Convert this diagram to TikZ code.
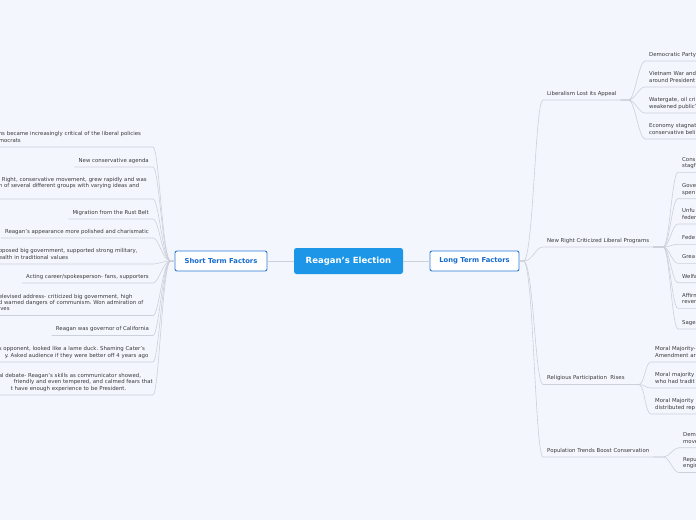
\documentclass[tikz,border=0pt]{standalone}
\usepackage{fontspec}
\setmainfont{DejaVu Sans}
\usetikzlibrary{positioning}
\definecolor{mapbg}{HTML}{F3F6FD}
\definecolor{maplink}{HTML}{CCD0D9}
\definecolor{mapblue}{HTML}{1D96E8}
\definecolor{mapedge}{HTML}{2A7AD8}
\definecolor{maphead}{HTML}{176BCF}
\definecolor{maptext}{HTML}{3A3A3A}

\tikzset{
  leaf/.style={font=\fontsize{5.4}{6.4}\selectfont\frenchspacing, text=maptext, inner xsep=4pt, inner ysep=3pt, text depth=1.5pt, align=left},
  lleaf/.style={leaf, anchor=south east},
  cutleaf/.style={lleaf, text width=150pt},
  rleaf/.style={leaf, anchor=south west, text width=70pt},
  twolines/.style={text depth=7.9pt},
  threelines/.style={text depth=14.3pt},
  topic/.style={leaf, anchor=south west},
  branch/.style={fill=white, draw=mapedge, line width=0.9pt, rounded corners=2pt, text=maphead, font=\bfseries\fontsize{6.8}{8}\selectfont, minimum height=20pt, inner sep=0pt},
  central/.style={fill=mapblue, rounded corners=2.5pt, text=white, font=\bfseries\fontsize{8.5}{10}\selectfont, minimum width=109pt, minimum height=26pt},
  link/.style={draw=maplink, line width=0.6pt}
}

\begin{document}
\begin{tikzpicture}[x=1pt,y=-1pt]
\path[use as bounding box] (0,0) rectangle (696,520);
\clip (0,0) rectangle (696,520);
\fill[mapbg] (0,0) rectangle (696,520);

% centre and the two main branches
\node[central] (re) at (348.5,261) {Reagan's Election};
\node[branch, minimum width=92pt] (st) at (221,261) {Short Term Factors};
\node[branch, minimum width=89pt] (lt) at (474.5,261) {Long Term Factors};
\draw[link] (re) -- (st);
\draw[link] (re) -- (lt);

% short term factors
\node[cutleaf, twolines] (s1) at (153,147) {ns became increasingly critical of the liberal policies\\mocrats};
\node[lleaf] (s2) at (153,167) {New conservative agenda};
\node[cutleaf, threelines] (s3) at (153,199) {\hspace*{3pt}Right, conservative movement, grew rapidly and was\\n of several different groups with varying ideas and};
\node[lleaf] (s4) at (153,219) {Migration from the Rust Belt};
\node[lleaf] (s5) at (153,238) {Reagan's appearance more polished and charismatic};
\node[cutleaf, twolines] (s6) at (153,264) {pposed big government, supported strong military,\\ealth in traditional values};
\node[lleaf] (s7) at (153,283) {Acting career/spokesperson- fans, supporters};
\node[cutleaf, threelines] (s8) at (153,315.5) {elevised address- criticized big government, high\\d warned dangers of communism. Won admiration of\\ives};
\node[lleaf] (s9) at (153,335.5) {Reagan was governor of California};
\node[cutleaf, twolines] (s10) at (153,362) {s opponent, looked like a lame duck. Shaming Cater's\\\mbox{\hspace*{6pt}y. Asked audience if they were better off 4 years ago}};
\node[cutleaf, threelines] (s11) at (153,395) {al debate- Reagan's skills as communicator showed,\\\mbox{\hspace*{15pt}friendly and even tempered, and calmed fears that}\\\mbox{\hspace*{12pt}t have enough experience to be President.}};

\draw[link] (st.west) -- ++(-4,0) .. controls +(-8,0) and +(6,0) .. (s1.south east) -- (s1.south west);
\draw[link] (st.west) -- ++(-4,0) .. controls +(-8,0) and +(6,0) .. (s2.south east) -- (s2.south west);
\draw[link] (st.west) -- ++(-4,0) .. controls +(-8,0) and +(6,0) .. (s3.south east) -- (s3.south west);
\draw[link] (st.west) -- ++(-4,0) .. controls +(-8,0) and +(6,0) .. (s4.south east) -- (s4.south west);
\draw[link] (st.west) -- ++(-4,0) .. controls +(-8,0) and +(6,0) .. (s5.south east) -- (s5.south west);
\draw[link] (st.west) -- ++(-4,0) .. controls +(-8,0) and +(6,0) .. (s6.south east) -- (s6.south west);
\draw[link] (st.west) -- ++(-4,0) .. controls +(-8,0) and +(6,0) .. (s7.south east) -- (s7.south west);
\draw[link] (st.west) -- ++(-4,0) .. controls +(-8,0) and +(6,0) .. (s8.south east) -- (s8.south west);
\draw[link] (st.west) -- ++(-4,0) .. controls +(-8,0) and +(6,0) .. (s9.south east) -- (s9.south west);
\draw[link] (st.west) -- ++(-4,0) .. controls +(-8,0) and +(6,0) .. (s10.south east) -- (s10.south west);
\draw[link] (st.west) -- ++(-4,0) .. controls +(-8,0) and +(6,0) .. (s11.south east) -- (s11.south west);

% long term factors
\node[topic] (lib) at (543,100) {Liberalism Lost its Appeal};
\node[topic] (nr) at (543,247) {New Right Criticized Liberal Programs};
\node[topic] (rel) at (543,384.5) {Religious Participation\ \ Rises};
\node[topic] (pop) at (543,457) {Population Trends Boost Conservation};

\draw[link] (lt.east) -- ++(4,0) .. controls +(10,0) and +(-8,0) .. (lib.south west) -- (lib.south east);
\draw[link] (lt.east) -- ++(4,0) .. controls +(10,0) and +(-8,0) .. (nr.south west) -- (nr.south east);
\draw[link] (lt.east) -- ++(4,0) .. controls +(10,0) and +(-8,0) .. (rel.south west) -- (rel.south east);
\draw[link] (lt.east) -- ++(4,0) .. controls +(10,0) and +(-8,0) .. (pop.south west) -- (pop.south east);

\node[rleaf] (lib1) at (645,61) {Democratic Party};
\node[rleaf, twolines] (lib2) at (645,87) {Vietnam War and\\around President};
\node[rleaf, twolines] (lib3) at (645,113) {Watergate, oil cri\\weakened public'};
\node[rleaf, twolines] (lib4) at (645,139) {Economy stagnat\\conservative beli};

\draw[link] (lib.south east) -- ++(8,0) .. controls +(6,0) and +(-6,0) .. (lib1.south west) -- (lib1.south east);
\draw[link] (lib.south east) -- ++(8,0) .. controls +(6,0) and +(-6,0) .. (lib2.south west) -- (lib2.south east);
\draw[link] (lib.south east) -- ++(8,0) .. controls +(6,0) and +(-6,0) .. (lib3.south west) -- (lib3.south east);
\draw[link] (lib.south east) -- ++(8,0) .. controls +(6,0) and +(-6,0) .. (lib4.south west) -- (lib4.south east);

\node[rleaf, twolines] (nr1) at (678,172.3) {Cons\\stagf};
\node[rleaf, twolines] (nr2) at (678,198.7) {Gove\\spen};
\node[rleaf, twolines] (nr3) at (678,224) {Unfu\\feder};
\node[rleaf] (nr4) at (678,244.3) {Fede};
\node[rleaf] (nr5) at (678,263.3) {Grea};
\node[rleaf] (nr6) at (678,282.7) {Welfa};
\node[rleaf, twolines] (nr7) at (678,308.3) {Affirm\\rever};
\node[rleaf] (nr8) at (678,329) {Sage};

\draw[link] (nr.south east) -- ++(10,0) .. controls +(6,0) and +(-6,0) .. (nr1.south west) -- (nr1.south east);
\draw[link] (nr.south east) -- ++(10,0) .. controls +(6,0) and +(-6,0) .. (nr2.south west) -- (nr2.south east);
\draw[link] (nr.south east) -- ++(10,0) .. controls +(6,0) and +(-6,0) .. (nr3.south west) -- (nr3.south east);
\draw[link] (nr.south east) -- ++(10,0) .. controls +(6,0) and +(-6,0) .. (nr4.south west) -- (nr4.south east);
\draw[link] (nr.south east) -- ++(10,0) .. controls +(6,0) and +(-6,0) .. (nr5.south west) -- (nr5.south east);
\draw[link] (nr.south east) -- ++(10,0) .. controls +(6,0) and +(-6,0) .. (nr6.south west) -- (nr6.south east);
\draw[link] (nr.south east) -- ++(10,0) .. controls +(6,0) and +(-6,0) .. (nr7.south west) -- (nr7.south east);
\draw[link] (nr.south east) -- ++(10,0) .. controls +(6,0) and +(-6,0) .. (nr8.south west) -- (nr8.south east);

\node[rleaf, twolines] (rel1) at (651,362) {Moral Majority-\\Amendment ar};
\node[rleaf, twolines] (rel2) at (651,388) {Moral majority\\who had tradit};
\node[rleaf, twolines] (rel3) at (651,414) {Moral Majority\\distributed rep};

\draw[link] (rel.south east) -- ++(10,0) .. controls +(6,0) and +(-6,0) .. (rel1.south west) -- (rel1.south east);
\draw[link] (rel.south east) -- ++(10,0) .. controls +(6,0) and +(-6,0) .. (rel2.south west) -- (rel2.south east);
\draw[link] (rel.south east) -- ++(10,0) .. controls +(6,0) and +(-6,0) .. (rel3.south west) -- (rel3.south east);

\node[rleaf, twolines] (pop1) at (679,447.7) {Dem\\move};
\node[rleaf, twolines] (pop2) at (679,472.5) {Repu\\engin};

\draw[link] (pop.south east) -- ++(10,0) .. controls +(6,0) and +(-6,0) .. (pop1.south west) -- (pop1.south east);
\draw[link] (pop.south east) -- ++(10,0) .. controls +(6,0) and +(-6,0) .. (pop2.south west) -- (pop2.south east);
\end{tikzpicture}
\end{document}
